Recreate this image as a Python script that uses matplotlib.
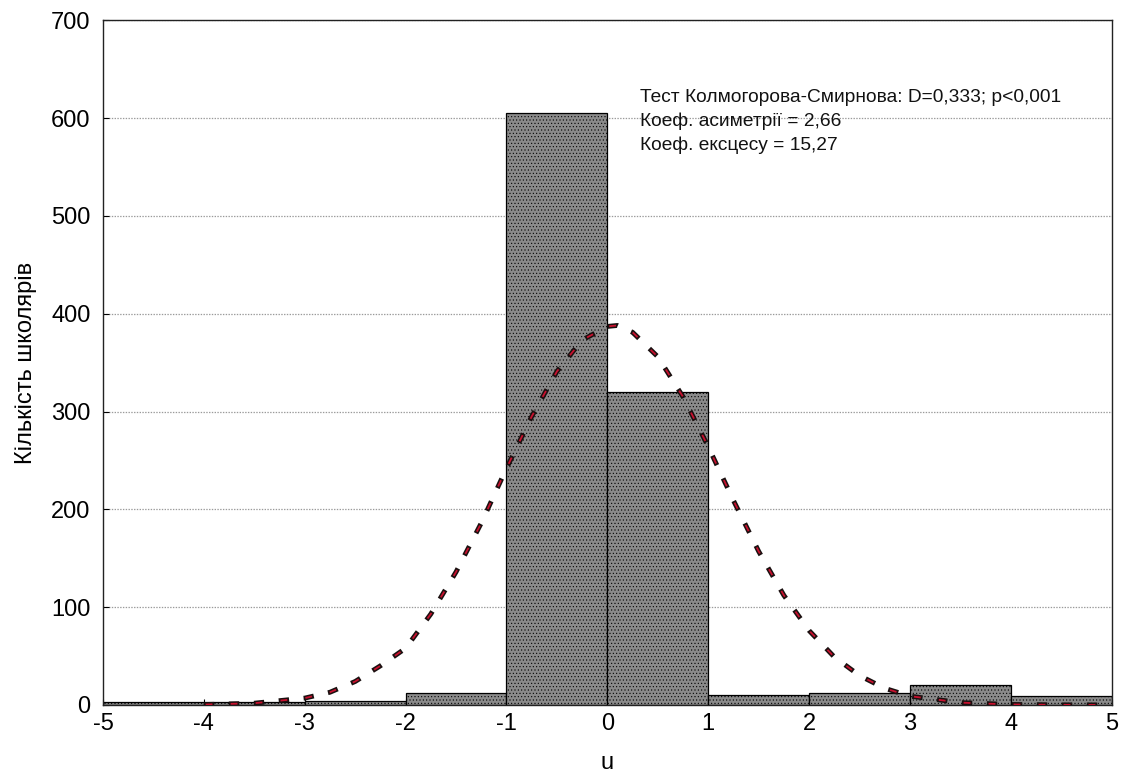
import matplotlib
matplotlib.use("Agg")
import matplotlib.pyplot as plt
import numpy as np

plt.rcParams['font.family'] = ['Liberation Sans', 'DejaVu Sans']
plt.rcParams['hatch.color'] = '#5a5a5a'
plt.rcParams['hatch.linewidth'] = 0.4
plt.rcParams['lines.scale_dashes'] = False

# Histogram bins and counts
bin_edges = [-5, -4, -3, -2, -1, 0, 1, 2, 3, 4, 5]
counts = [3, 3, 4, 12, 605, 320, 10, 12, 20, 9]

# Expected normal curve
curve_x = [-4.0, -3.5, -3.0, -2.75, -2.5, -2.25, -2.0, -1.75, -1.5, -1.25, -1.0,
           -0.75, -0.5, -0.25, 0.0, 0.1, 0.25, 0.5, 0.75, 1.0, 1.25, 1.5, 1.75,
           2.0, 2.25, 2.5, 2.75, 3.0, 3.5, 4.0, 4.5, 5.0]
curve_y = [0.4, 1.8, 7, 13, 24, 40, 58, 93, 136, 186, 242,
           295, 341, 373, 387, 388, 381, 356, 315, 264, 209, 157, 112,
           76, 49, 30, 17, 9, 2.4, 0.5, 0.1, 0.0]

xticks = [-5, -4, -3, -2, -1, 0, 1, 2, 3, 4, 5]
yticks = [0, 100, 200, 300, 400, 500, 600, 700]

annot_lines = ["Тест Колмогорова-Смирнова: D=0,333; p<0,001",
               "Коеф. асиметрії = 2,66",
               "Коеф. ексцесу = 15,27"]

fig = plt.figure(figsize=(11.23, 7.8), dpi=100)
ax = fig.add_axes([0.0917, 0.0962, 0.8983, 0.8778])

lefts = bin_edges[:-1]
widths = np.diff(bin_edges)
ax.bar(lefts, counts, width=widths, align='edge', color='#8a8a8a',
       edgecolor='black', linewidth=0.9, hatch='.....', zorder=2)

ax.plot(curve_x, curve_y, color='#1a1010', lw=3.5, ls=(0, (7.5, 10.5)), zorder=3,
        dash_capstyle='butt')
ax.plot(curve_x, curve_y, color='#c8102e', lw=1.3, ls=(-1.3, (4.9, 13.1)), zorder=4,
        dash_capstyle='butt')

ax.set_xlim(-5, 5)
ax.set_ylim(0, 700)
ax.set_xticks(xticks)
ax.set_yticks(yticks)
ax.set_xticklabels([str(t) for t in xticks])
ax.yaxis.grid(True, color='#9a9a9a', ls=(0, (1, 1)), lw=0.9, zorder=0)
ax.set_axisbelow(True)
ax.tick_params(axis='both', labelsize=17, direction='in', length=4, width=0.8)
ax.tick_params(axis='y', pad=9)
ax.tick_params(axis='x', pad=6)
for s in ax.spines.values():
    s.set_linewidth(1.0)
    s.set_color('#222222')

ax.set_xlabel('u', fontsize=17, labelpad=12)
ax.set_ylabel('Кількість школярів', fontsize=17, labelpad=10)

for i, line in enumerate(annot_lines):
    ax.text(0.32, 621 - i * 24.5, line, fontsize=13.8, va='center', ha='left',
            color='#111111', zorder=5)

fig.savefig('out.png', dpi=100)
